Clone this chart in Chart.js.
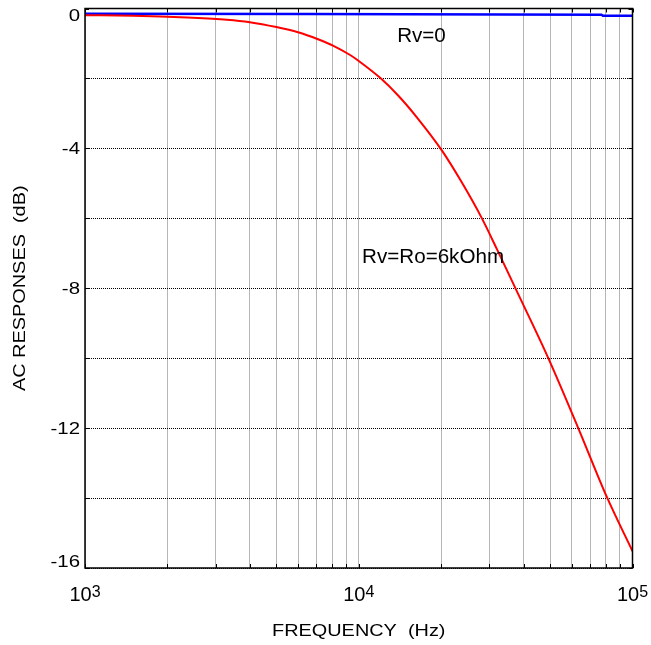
<!DOCTYPE html>
<html>
<head>
<meta charset="utf-8">
<script src="https://cdn.jsdelivr.net/npm/chart.js@4.4.1/dist/chart.umd.min.js"></script>
<style>
  html, body { margin: 0; padding: 0; background: #fff; }
  canvas { display: block; }
</style>
</head>
<body>
<canvas id="grafico" width="651" height="645"></canvas>
<script>
// data
const redFreq = [1000, 1500, 2360, 3300, 4000, 5000, 6000, 7100, 8050, 9300, 10000, 12000, 13900, 16300, 20000, 23900, 28300, 32000, 37300, 49200, 63300, 80800, 100000];
const redDb   = [-0.19, -0.21, -0.26, -0.32, -0.39, -0.53, -0.68, -0.88, -1.06, -1.33, -1.50, -1.99, -2.48, -3.11, -4.03, -5.00, -6.03, -6.89, -7.99, -9.99, -11.99, -13.99, -15.52];
const blueFreq = [1000, 6500, 77000, 78000, 100000];
const blueDb   = [-0.15, -0.16, -0.18, -0.21, -0.21];

const xGrid = [1000, 2000, 3000, 4000, 5000, 6000, 7000, 8000, 9000, 10000,
               20000, 30000, 40000, 50000, 60000, 70000, 80000, 90000, 100000];
const xTickVals = [1000, 10000, 100000];
const xTickExp = ['3', '4', '5'];
const yGrid = [0, -2, -4, -6, -8, -10, -12, -14, -16];
const yTickVals = [0, -4, -8, -12, -16];

const notas = [
  { text: 'Rv=0', f: 13810, db: -0.96 },
  { text: 'Rv=Ro=6kOhm', f: 10285, db: -7.27 }
];

function pares(xs, ys) {
  return xs.map((x, i) => ({ x: x, y: ys[i] }));
}

function texto(ctx, s, x, y, font, align, sx) {
  ctx.save();
  ctx.font = font;
  ctx.textAlign = align;
  ctx.textBaseline = 'alphabetic';
  ctx.translate(x, y);
  ctx.scale(sx, 1);
  ctx.fillText(s, 0, 0);
  ctx.restore();
}

const moldura = {
  id: 'moldura',
  afterDraw(chart) {
    const ctx = chart.ctx;
    const a = chart.chartArea;
    const sx = chart.scales.x, sy = chart.scales.y;
    ctx.save();
    ctx.fillStyle = '#000';
    ctx.strokeStyle = '#000';

    // small inward ticks
    ctx.lineWidth = 1;
    ctx.beginPath();
    xGrid.forEach(v => {
      const px = Math.round(sx.getPixelForValue(v)) + 0.5;
      ctx.moveTo(px, a.top); ctx.lineTo(px, a.top + 4);
      ctx.moveTo(px, a.bottom); ctx.lineTo(px, a.bottom - 4);
    });
    yGrid.forEach(v => {
      const py = Math.round(sy.getPixelForValue(v)) + 0.5;
      ctx.moveTo(a.left, py); ctx.lineTo(a.left + 4, py);
      ctx.moveTo(a.right, py); ctx.lineTo(a.right - 4, py);
    });
    ctx.stroke();

    // frame
    ctx.lineWidth = 1.5;
    ctx.strokeRect(a.left, a.top, a.right - a.left, a.bottom - a.top);

    // y tick labels
    yTickVals.forEach(v => {
      let py = sy.getPixelForValue(v);
      py = Math.min(Math.max(py, a.top + 6), a.bottom - 7);
      texto(ctx, String(v), 80, py + 6, '17px "Liberation Sans", Arial, sans-serif', 'right', 1.2);
    });

    // x tick labels with superscript
    xTickVals.forEach((v, i) => {
      const px = sx.getPixelForValue(v);
      ctx.font = '20px "Liberation Sans", Arial, sans-serif';
      const w1 = ctx.measureText('10').width;
      ctx.font = '16px "Liberation Sans", Arial, sans-serif';
      const w2 = ctx.measureText(xTickExp[i]).width;
      const x0 = px - (w1 + w2) / 2;
      texto(ctx, '10', x0, 601, '20px "Liberation Sans", Arial, sans-serif', 'left', 1);
      texto(ctx, xTickExp[i], x0 + w1, 597, '16px "Liberation Sans", Arial, sans-serif', 'left', 1);
    });

    // axis titles
    texto(ctx, 'FREQUENCY  (Hz)', (a.left + a.right) / 2, 636, '17px "Liberation Sans", Arial, sans-serif', 'center', 1.17);
    ctx.save();
    ctx.translate(25, (a.top + a.bottom) / 2);
    ctx.rotate(-Math.PI / 2);
    texto(ctx, 'AC RESPONSES  (dB)', 0, 0, '17px "Liberation Sans", Arial, sans-serif', 'center', 1.17);
    ctx.restore();

    // curve notes
    notas.forEach(n => {
      texto(ctx, n.text, sx.getPixelForValue(n.f), sy.getPixelForValue(n.db),
            '20px "Liberation Sans", Arial, sans-serif', 'left', 1.03);
    });
    ctx.restore();
  }
};

new Chart(document.getElementById('grafico'), {
  type: 'line',
  data: {
    datasets: [
      {
        label: 'Rv=Ro=6kOhm',
        data: pares(redFreq, redDb),
        borderColor: '#ff0000',
        borderWidth: 2,
        pointRadius: 0,
        cubicInterpolationMode: 'monotone',
        fill: false
      },
      {
        label: 'Rv=0',
        data: pares(blueFreq, blueDb),
        borderColor: '#0000ff',
        borderWidth: 2.5,
        pointRadius: 0,
        tension: 0,
        fill: false
      }
    ]
  },
  options: {
    responsive: false,
    animation: false,
    devicePixelRatio: 1,
    layout: { padding: { left: 85, top: 8.5, right: 18.5, bottom: 77 } },
    plugins: { legend: { display: false }, tooltip: { enabled: false } },
    scales: {
      x: {
        type: 'logarithmic',
        min: 1000,
        max: 100000,
        afterBuildTicks: s => { s.ticks = xGrid.map(v => ({ value: v })); },
        ticks: { display: false },
        grid: { color: '#6e6e6e', lineWidth: 1, drawTicks: false },
        border: { display: false, dash: [1, 1] }
      },
      y: {
        type: 'linear',
        min: -16,
        max: 0,
        afterBuildTicks: s => { s.ticks = yGrid.map(v => ({ value: v })); },
        ticks: { display: false },
        grid: { color: '#000', lineWidth: 1, drawTicks: false },
        border: { display: false, dash: [1, 1] }
      }
    }
  },
  plugins: [moldura]
});
</script>
</body>
</html>
